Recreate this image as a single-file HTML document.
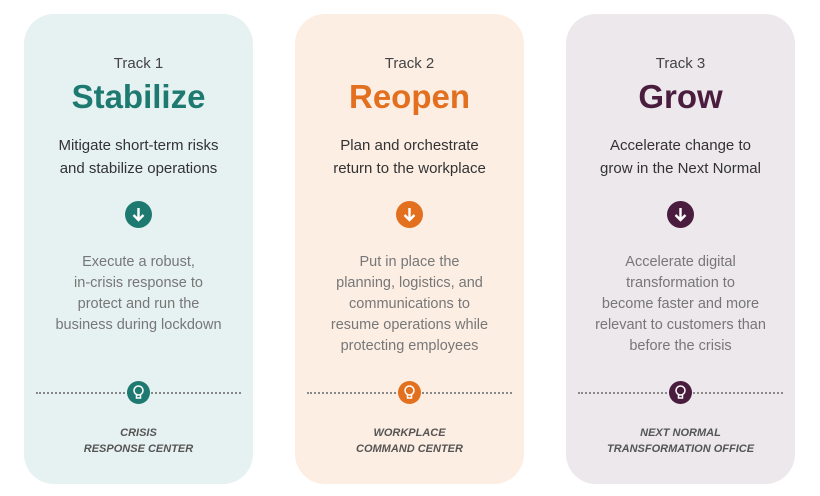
<!DOCTYPE html>
<html><head><style>
body{margin:0;width:820px;height:496px;background:#fff;font-family:"Liberation Sans",sans-serif;position:relative;overflow:hidden}
.card{position:absolute;top:14px;width:229px;height:470px;border-radius:30px;text-align:center}
.t{position:absolute;top:41px;width:100%;font-size:15px;color:#444}
.h{position:absolute;top:64px;width:100%;font-size:33px;font-weight:bold}
.s{position:absolute;top:120px;width:100%;font-size:15px;line-height:23px;color:#333}
.c{position:absolute;left:101px;top:187px;width:27px;height:27px;border-radius:50%;color:#fff}
.b{position:absolute;top:238px;width:100%;font-size:14.5px;line-height:21px;color:#777}
.d{position:absolute;left:12px;right:12px;top:378px;border-top:2px dotted #888}
.l{position:absolute;left:103px;top:367px;width:23px;height:23px;border-radius:50%}
.f{position:absolute;top:411px;width:100%;font-size:11px;line-height:16px;font-weight:bold;font-style:italic;color:#555}
</style></head><body>

<div class="card" style="left:24px;background:#e6f1f1">
<div class="t">Track 1</div><div class="h" style="color:#1e7a70">Stabilize</div>
<div class="s">Mitigate short-term risks<br>and stabilize operations</div>
<div class="c" style="background:#1e7a70"><svg width="27" height="27"><path d="M13.5 7v12M8.5 14l5 5 5-5" stroke="#fff" stroke-width="2.4" fill="none"/></svg></div>
<div class="b">Execute a robust,<br>in-crisis response to<br>protect and run the<br>business during lockdown</div>
<div class="d"></div>
<div class="l" style="background:#1e7a70"><svg width="23" height="23"><circle cx="11.5" cy="9.5" r="4.5" stroke="#fff" stroke-width="1.5" fill="none"/><path d="M9.5 14v3h4v-3" stroke="#fff" stroke-width="1.5" fill="none"/></svg></div>
<div class="f">CRISIS<br>RESPONSE CENTER</div>
</div>

<div class="card" style="left:295px;background:#fdeee4">
<div class="t">Track 2</div><div class="h" style="color:#e2701f">Reopen</div>
<div class="s">Plan and orchestrate<br>return to the workplace</div>
<div class="c" style="background:#e2701f"><svg width="27" height="27"><path d="M13.5 7v12M8.5 14l5 5 5-5" stroke="#fff" stroke-width="2.4" fill="none"/></svg></div>
<div class="b">Put in place the<br>planning, logistics, and<br>communications to<br>resume operations while<br>protecting employees</div>
<div class="d"></div>
<div class="l" style="background:#e2701f"><svg width="23" height="23"><circle cx="11.5" cy="9.5" r="4.5" stroke="#fff" stroke-width="1.5" fill="none"/><path d="M9.5 14v3h4v-3" stroke="#fff" stroke-width="1.5" fill="none"/></svg></div>
<div class="f">WORKPLACE<br>COMMAND CENTER</div>
</div>

<div class="card" style="left:566px;background:#ece8ec">
<div class="t">Track 3</div><div class="h" style="color:#4a1c3e">Grow</div>
<div class="s">Accelerate change to<br>grow in the Next Normal</div>
<div class="c" style="background:#4a1c3e"><svg width="27" height="27"><path d="M13.5 7v12M8.5 14l5 5 5-5" stroke="#fff" stroke-width="2.4" fill="none"/></svg></div>
<div class="b">Accelerate digital<br>transformation to<br>become faster and more<br>relevant to customers than<br>before the crisis</div>
<div class="d"></div>
<div class="l" style="background:#4a1c3e"><svg width="23" height="23"><circle cx="11.5" cy="9.5" r="4.5" stroke="#fff" stroke-width="1.5" fill="none"/><path d="M9.5 14v3h4v-3" stroke="#fff" stroke-width="1.5" fill="none"/></svg></div>
<div class="f">NEXT NORMAL<br>TRANSFORMATION OFFICE</div>
</div>

</body></html>
